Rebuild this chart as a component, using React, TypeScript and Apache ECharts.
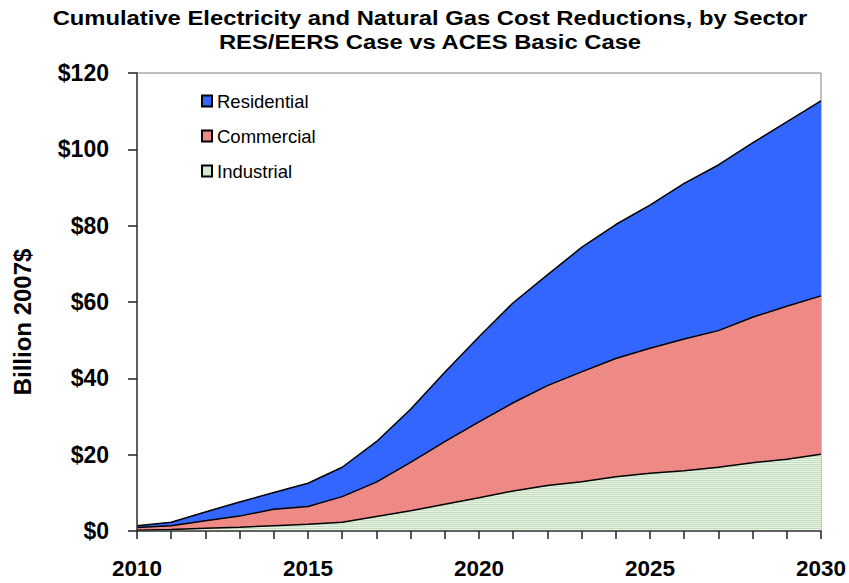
import React, { useEffect, useRef } from "react";
import * as echarts from "echarts";

const years = ["2010","2011","2012","2013","2014","2015","2016","2017","2018","2019","2020","2021","2022","2023","2024","2025","2026","2027","2028","2029","2030"];
const industrial = [0.2,0.4,0.7,1.0,1.4,1.8,2.3,3.8,5.3,7.0,8.7,10.5,11.9,12.9,14.2,15.1,15.8,16.7,17.9,18.8,20.1];
const commercial = [0.7,1.0,2.0,2.9,4.3,4.6,6.7,9.0,12.7,16.4,19.9,23.1,26.2,28.8,31.0,32.8,34.5,35.8,38.1,40.1,41.5];
const residential = [0.5,0.9,2.3,3.7,4.4,6.1,7.7,10.6,13.9,18.2,22.3,26.2,29.0,32.6,35.1,37.5,40.8,43.4,45.7,48.3,51.1];
const titleLine1 = "Cumulative Electricity and Natural Gas Cost Reductions, by Sector";
const titleLine2 = "RES/EERS Case vs ACES Basic Case";
const yAxisName = "Billion 2007$";

function makePattern(base: string, mark: string, kind: "dots" | "lines") {
  const c = document.createElement("canvas");
  c.width = 4; c.height = 4;
  const ctx = c.getContext("2d")!;
  ctx.fillStyle = base;
  ctx.fillRect(0, 0, 4, 4);
  ctx.fillStyle = mark;
  if (kind === "lines") {
    ctx.fillRect(0, 0, 4, 1);
    ctx.fillRect(0, 2, 4, 1);
  } else {
    ctx.fillRect(0, 0, 1, 1);
    ctx.fillRect(2, 2, 1, 1);
  }
  return { image: c, repeat: "repeat" as const };
}

export default function App() {
  const ref = useRef<HTMLDivElement>(null);
  useEffect(() => {
    const chart = echarts.init(ref.current!, null, { renderer: "svg" });
    const font = "Arial, 'Liberation Sans', sans-serif";
    const indFill = makePattern("#E6F1E2", "#C4DEC0", "lines");
    const comFill = makePattern("#F08C88", "#E27A76", "dots");
    const mk = (name: string, data: number[], fill: any) => ({
      name,
      type: "line",
      stack: "total",
      data,
      symbol: "none",
      lineStyle: { color: "#000", width: 1.5 },
      itemStyle: { color: fill, borderColor: "#000", borderWidth: 1.2 },
      areaStyle: { color: fill, opacity: 1 },
      z: 2,
    });
    const titleText = (text: string, y: number) => ({
      type: "text",
      x: 430,
      y,
      scaleX: 1.19,
      style: {
        text,
        fill: "#000",
        font: "bold 20px Arial, 'Liberation Sans', sans-serif",
        textAlign: "center",
        verticalAlign: "middle",
        textVerticalAlign: "middle",
      },
    });
    chart.setOption({
      animation: false,
      backgroundColor: "#fff",
      graphic: [
        titleText(titleLine1, 18),
        titleText(titleLine2, 42.5),
        {
          type: "text",
          x: 22.5,
          y: 322,
          rotation: Math.PI / 2,
          style: {
            text: yAxisName,
            fill: "#000",
            font: "bold 24px Arial, 'Liberation Sans', sans-serif",
            textAlign: "center",
            verticalAlign: "middle",
            textVerticalAlign: "middle",
          },
        },
      ],
      legend: {
        orient: "vertical",
        left: 196,
        top: 86,
        itemWidth: 10,
        itemHeight: 11,
        itemGap: 15,
        icon: "rect",
        data: ["Residential", "Commercial", "Industrial"],
        textStyle: { fontFamily: font, fontSize: 18.5, lineHeight: 20, color: "#000", padding: [0, 0, 0, 0] },
      },
      grid: {
        left: 137,
        right: 27,
        top: 73,
        bottom: 52,
        show: true,
        borderColor: "#808080",
        borderWidth: 1,
        containLabel: false,
      },
      xAxis: {
        type: "category",
        data: years,
        boundaryGap: false,
        z: 10,
        axisLine: { show: true, lineStyle: { color: "#404040", width: 1.5 } },
        axisTick: { show: true, interval: 0, inside: false, length: 8, lineStyle: { color: "#202020", width: 1.5 } },
        axisLabel: {
          interval: 4,
          fontFamily: font,
          fontWeight: "bold",
          fontSize: 22.5,
          color: "#000",
          margin: 26,
        },
      },
      yAxis: {
        type: "value",
        min: 0,
        max: 120,
        interval: 20,
        z: 10,
        splitLine: { show: false },
        axisLine: { show: true, lineStyle: { color: "#404040", width: 1.5 } },
        axisTick: { show: true, inside: false, length: 9, lineStyle: { color: "#202020", width: 1.5 } },
        axisLabel: {
          formatter: (v: number) => "$" + v,
          fontFamily: font,
          fontWeight: "bold",
          fontSize: 23,
          color: "#000",
          margin: 28,
          padding: [3, 0, 0, 0],
        },
      },
      series: [
        mk("Industrial", industrial, indFill),
        mk("Commercial", commercial, comFill),
        mk("Residential", residential, "#3366FF"),
      ],
    });
    return () => chart.dispose();
  }, []);
  return <div ref={ref} style={{ width: 849, height: 583, position: "absolute", left: 0, top: 0 }} />;
}
